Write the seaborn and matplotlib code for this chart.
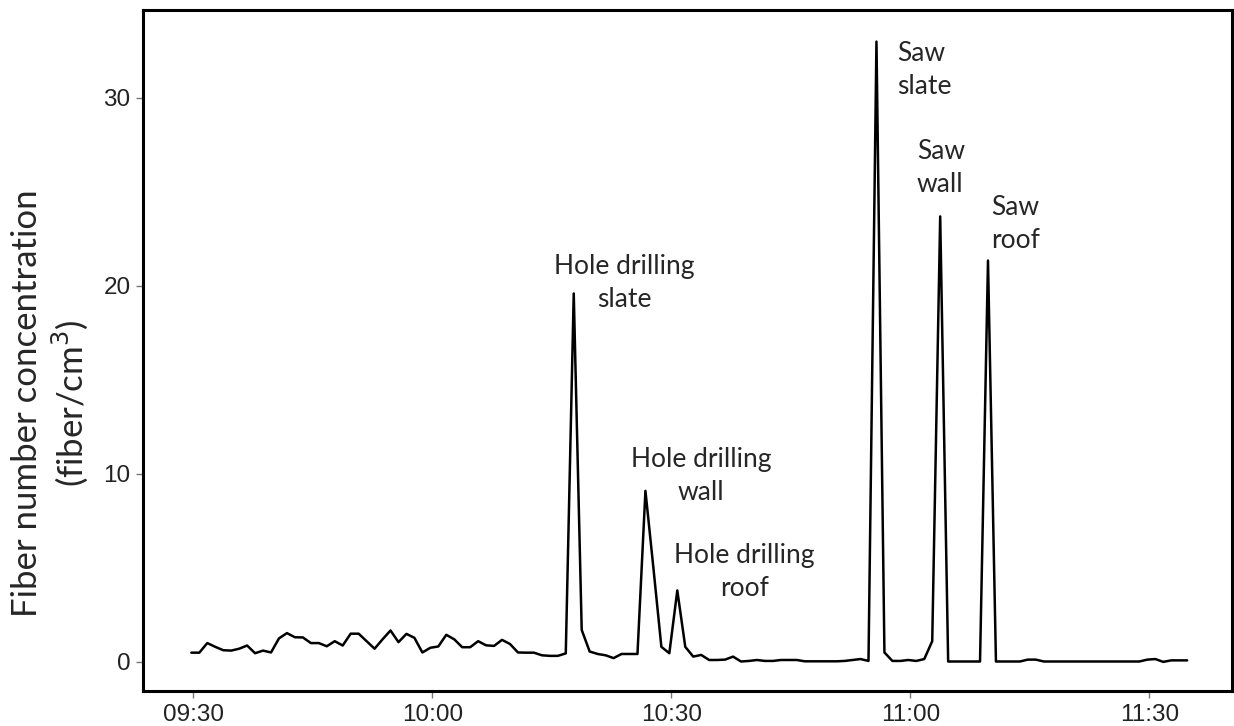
import pandas as pd
import seaborn as sns
import matplotlib.pyplot as plt
import matplotlib.dates as mdates

# Fiber concentration, one reading per minute starting 09:29:45
conc = [
    0.49, 0.49, 1.0, 0.8, 0.62, 0.6, 0.7, 0.87, 0.46, 0.6,
    0.5, 1.25, 1.53, 1.31, 1.3, 1.0, 1.0, 0.83, 1.1, 0.87,
    1.5, 1.5, 1.1, 0.7, 1.2, 1.67, 1.05, 1.49, 1.28, 0.5,
    0.75, 0.82, 1.44, 1.2, 0.78, 0.78, 1.1, 0.88, 0.85, 1.17,
    0.95, 0.5, 0.49, 0.49, 0.35, 0.32, 0.32, 0.45, 19.6, 1.7,
    0.55, 0.42, 0.35, 0.2, 0.42, 0.42, 0.42, 9.1, 5.0, 0.8,
    0.46, 3.8, 0.8, 0.28, 0.37, 0.1, 0.1, 0.12, 0.28, 0.02,
    0.05, 0.1, 0.05, 0.05, 0.1, 0.1, 0.1, 0.03, 0.03, 0.03,
    0.03, 0.03, 0.05, 0.1, 0.15, 0.05, 33.0, 0.5, 0.05, 0.05,
    0.1, 0.05, 0.15, 1.1, 23.7, 0.02, 0.02, 0.02, 0.02, 0.02,
    21.35, 0.02, 0.02, 0.02, 0.02, 0.12, 0.12, 0.02, 0.02, 0.02,
    0.02, 0.02, 0.02, 0.02, 0.02, 0.02, 0.02, 0.02, 0.02, 0.02,
    0.12, 0.15, 0.0, 0.08, 0.08, 0.08,
]
start_time = '2020-01-01 09:29:45'
tick_labels = ['09:30', '10:00', '10:30', '11:00', '11:30']
y_ticks = [0, 10, 20, 30]

# activity labels: text, time, value, alignment
notes = ['Hole drilling\nslate', 'Hole drilling\nwall', 'Hole drilling\nroof',
         'Saw\nslate', 'Saw\nwall', 'Saw\nroof']
note_times = ['10:24:04', '10:33:42', '10:39:12', '10:58:24', '11:00:48', '11:10:06']
note_values = [20.16, 9.87, 4.76, 31.5, 26.25, 23.3]
note_align = ['center', 'center', 'center', 'left', 'left', 'left']

times = pd.date_range(start_time, periods=len(conc), freq='1min')
df = pd.DataFrame({'time': times, 'conc': conc})

sns.set_theme(style='white')
plt.rcParams['font.family'] = ['Liberation Sans', 'DejaVu Sans']

fig = plt.figure(figsize=(12.34, 7.26), dpi=100)
ax = fig.add_axes([0.1159, 0.0482, 0.8825, 0.938])

sns.lineplot(data=df, x='time', y='conc', color='black', linewidth=1.8, ax=ax)

day = '2020-01-01 '
ax.set_xlim(pd.Timestamp(day + '09:23:41'), pd.Timestamp(day + '11:40:23'))
ax.set_ylim(-1.55, 34.68)
ax.set_xticks([pd.Timestamp(day + t) for t in tick_labels])
ax.xaxis.set_major_formatter(mdates.DateFormatter('%H:%M'))
ax.set_yticks(y_ticks)

ax.tick_params(axis='both', which='major', bottom=True, left=True, length=5,
               width=1, color='#777777', labelsize=17.5, labelcolor='#222222', pad=4)
for side in ['left', 'right', 'top', 'bottom']:
    ax.spines[side].set_color('black')
    ax.spines[side].set_linewidth(2.2)

ax.set_xlabel('')
ax.set_ylabel('')
fig.text(0.041, 0.445, 'Fiber number concentration\n(fiber/cm$^3$)', rotation=90,
         ha='center', va='center', multialignment='center', fontsize=25,
         family=['Lato', 'DejaVu Sans'], linespacing=1.2)

for txt, t, v, al in zip(notes, note_times, note_values, note_align):
    ax.text(pd.Timestamp(day + t), v, txt, ha=al, va='center', fontsize=19,
            family=['Lato', 'DejaVu Sans'], linespacing=1.4, multialignment=al)

plt.savefig('out.png')
